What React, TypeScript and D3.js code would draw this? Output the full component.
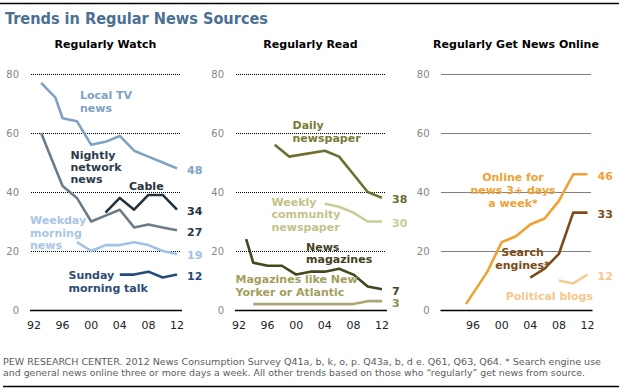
import React from 'react';
import * as d3 from 'd3';

// ---- data (percent who regularly use each source) ----
const localTvYears = [1993, 1995, 1996, 1998, 2000, 2002, 2004, 2006, 2008, 2010, 2012];
const localTvValues = [77, 72, 65, 64, 56, 57, 59, 54, 52, 50, 48];
const nightlyYears = [1993, 1995, 1996, 1998, 2000, 2002, 2004, 2006, 2008, 2010, 2012];
const nightlyValues = [60, 48, 42, 38, 30, 32, 34, 28, 29, 28, 27];
const cableYears = [2002, 2004, 2006, 2008, 2010, 2012];
const cableValues = [33, 38, 34, 39, 39, 34];
const weekdayYears = [1998, 2000, 2002, 2004, 2006, 2008, 2010, 2012];
const weekdayValues = [23, 20, 22, 22, 23, 22, 20, 19];
const sundayYears = [2004, 2006, 2008, 2010, 2012];
const sundayValues = [12, 12, 13, 11, 12];

const dailyYears = [1997, 1999, 2004, 2006, 2008, 2010, 2012];
const dailyValues = [56, 52, 54, 52, 46, 40, 38];
const weeklyYears = [2004, 2006, 2008, 2010, 2012];
const weeklyValues = [36, 35, 33, 30, 30];
const newsMagYears = [1993, 1994, 1996, 1998, 2000, 2002, 2004, 2006, 2008, 2010, 2012];
const newsMagValues = [24, 16, 15, 15, 12, 13, 13, 14, 12, 8, 7];
const magLikeYears = [1994, 1996, 1998, 2000, 2002, 2004, 2006, 2008, 2010, 2012];
const magLikeValues = [2, 2, 2, 2, 2, 2, 2, 2, 3, 3];

const onlineYears = [1995, 1998, 2000, 2002, 2004, 2006, 2008, 2010, 2012];
const onlineValues = [2, 13, 23, 25, 29, 31, 37, 46, 46];
const searchYears = [2004, 2006, 2008, 2010, 2012];
const searchValues = [11, 14, 19, 33, 33];
const blogsYears = [2008, 2010, 2012];
const blogsValues = [10, 9, 12];

const yearTicks = [1992, 1996, 2000, 2004, 2008, 2012];
const onlineYearTicks = [1996, 2000, 2004, 2008, 2012];
const valueTicks = [0, 20, 40, 60, 80];

const FONT = '"DejaVu Sans", Verdana, sans-serif';
const NARROW = '"DejaVu Sans Condensed", Tahoma, "DejaVu Sans", sans-serif';

interface Series {
  years: number[];
  values: number[];
  color: string;
  labelColor: string;
  endColor: string;
  lines: string[];
  lx: number;
  ly: number[];
  anchor?: 'start' | 'middle';
}

interface Panel {
  x0: number;
  title: string;
  ticks: number[];
  series: Series[];
}

const panels: Panel[] = [
  {
    x0: 34,
    title: 'Regularly Watch',
    ticks: yearTicks,
    series: [
      { years: localTvYears, values: localTvValues, color: '#7ea2c4', labelColor: '#7ea2c4', endColor: '#7ea2c4',
        lines: ['Local TV', 'news'], lx: 46, ly: [99, 112] },
      { years: nightlyYears, values: nightlyValues, color: '#6c7b88', labelColor: '#2b3b4e', endColor: '#2b3b4e',
        lines: ['Nightly', 'network', 'news'], lx: 36.5, ly: [159, 171, 183] },
      { years: cableYears, values: cableValues, color: '#22323f', labelColor: '#22323f', endColor: '#22323f',
        lines: ['Cable'], lx: 95, ly: [190] },
      { years: weekdayYears, values: weekdayValues, color: '#a0c2e6', labelColor: '#a9c6e3', endColor: '#a0c2e6',
        lines: ['Weekday', 'morning', 'news'], lx: -4, ly: [224, 236.5, 249] },
      { years: sundayYears, values: sundayValues, color: '#234a7b', labelColor: '#2d4c74', endColor: '#234a7b',
        lines: ['Sunday', 'morning talk'], lx: 34.5, ly: [279, 291.5] },
    ],
  },
  {
    x0: 239,
    title: 'Regularly Read',
    ticks: yearTicks,
    series: [
      { years: dailyYears, values: dailyValues, color: '#6c6e2d', labelColor: '#7b7a32', endColor: '#6c6e2d',
        lines: ['Daily', 'newspaper'], lx: 53.5, ly: [129, 141.5] },
      { years: weeklyYears, values: weeklyValues, color: '#cacb97', labelColor: '#c4c28a', endColor: '#cacb97',
        lines: ['Weekly', 'community', 'newspaper'], lx: 32.5, ly: [206, 218.3, 230.5] },
      { years: newsMagYears, values: newsMagValues, color: '#43461f', labelColor: '#3f4220', endColor: '#43461f',
        lines: ['News', 'magazines'], lx: 67, ly: [250.5, 263.3] },
      { years: magLikeYears, values: magLikeValues, color: '#a9a874', labelColor: '#a29f5c', endColor: '#8e8c4c',
        lines: ['Magazines like New', 'Yorker or Atlantic'], lx: -3.5, ly: [283.3, 296] },
    ],
  },
  {
    x0: 444.5,
    title: 'Regularly Get News Online',
    ticks: onlineYearTicks,
    series: [
      { years: onlineYears, values: onlineValues, color: '#f0a133', labelColor: '#f0a133', endColor: '#f0a133',
        lines: ['Online for', 'news 3+ days', 'a week*'], lx: 68.5, ly: [180.5, 193.5, 207], anchor: 'middle' },
      { years: searchYears, values: searchValues, color: '#7b4c19', labelColor: '#7b4c19', endColor: '#7b4c19',
        lines: ['Search', 'engines*'], lx: 78, ly: [256, 268.5], anchor: 'middle' },
      { years: blogsYears, values: blogsValues, color: '#f8ca92', labelColor: '#f6c68c', endColor: '#f6c68c',
        lines: ['Political blogs'], lx: 61.2, ly: [299.5] },
    ],
  },
];

const x = d3.scaleLinear().domain([1992, 2012]).range([0, 143]);
const y = d3.scaleLinear().domain([0, 80]).range([310, 74]);

const PanelView: React.FC<{ p: Panel }> = ({ p }) => {
  return (
    <g transform={`translate(${p.x0},0)`}>
      <text x={71.5} y={48} textAnchor="middle" fontFamily={FONT} fontWeight="bold" fontSize={11} fill="#000">
        {p.title}
      </text>
      {valueTicks.map(v => (
        <g key={v}>
          {v > 0 ? (
            <line x1={-3} x2={146} y1={y(v) + 0.5} y2={y(v) + 0.5} stroke="#000" strokeWidth={1} strokeDasharray="1,1" />
          ) : (
            <line x1={-4} x2={148} y1={y(v) + 0.5} y2={y(v) + 0.5} stroke="#000" strokeWidth={1.6} />
          )}
          <text x={-15} y={y(v) + 4} textAnchor="end" fontFamily={FONT} fontSize={10} fill="#8a8580">{v}</text>
        </g>
      ))}
      {p.ticks.map(t => (
        <text key={t} x={x(t)} y={329} textAnchor="middle" fontFamily={FONT} fontSize={11} fill="#222">
          {String(t % 100).padStart(2, '0')}
        </text>
      ))}
      {p.series.map((s, k) => {
        const path = d3.line<number>()
          .x((_, i) => x(s.years[i]))
          .y(d => y(d))(s.values);
        const last = s.values[s.values.length - 1];
        return (
          <g key={k}>
            <path d={path ?? ''} fill="none" stroke={s.color} strokeWidth={2.6} strokeLinejoin="round" />
            <text x={153} y={y(last) + 5.5} fontFamily={FONT} fontWeight="bold" fontSize={11} fill={s.endColor}>
              {last}
            </text>
            {s.lines.map((t, j) => (
              <text key={j} x={s.lx} y={s.ly[j]} textAnchor={s.anchor ?? 'start'} fontFamily={FONT}
                fontWeight="bold" fontSize={11} fill={s.labelColor}>
                {t}
              </text>
            ))}
          </g>
        );
      })}
    </g>
  );
};

export default function App() {
  return (
    <svg width={619} height={391} style={{ position: 'absolute', left: 0, top: 0, background: '#fff' }}>
      <rect width={619} height={391} fill="#fff" />
      <line x1={0} x2={619} y1={3.5} y2={3.5} stroke="#000" strokeWidth={1.5} />
      <text x={5} y={24} fontFamily={NARROW} fontWeight="bold" fontSize={16} fill="#4b7093"
        textLength={263} lengthAdjust="spacingAndGlyphs">
        Trends in Regular News Sources
      </text>
      {panels.map((p, i) => <PanelView key={i} p={p} />)}
      <text x={3} y={365} fontFamily={NARROW} fontSize={9.5} fill="#5c5c5c"
        textLength={598} lengthAdjust="spacingAndGlyphs">
        PEW RESEARCH  CENTER.  2012 News Consumption Survey Q41a, b, k, o, p. Q43a, b, d e. Q61, Q63, Q64. * Search engine use
      </text>
      <text x={3} y={375.5} fontFamily={NARROW} fontSize={9.5} fill="#5c5c5c"
        textLength={582} lengthAdjust="spacingAndGlyphs">
        and general news online three or more days a week. All other trends based on those who “regularly” get news from  source.
      </text>
      <line x1={3} x2={619} y1={386.5} y2={386.5} stroke="#000" strokeWidth={1.5} />
    </svg>
  );
}
